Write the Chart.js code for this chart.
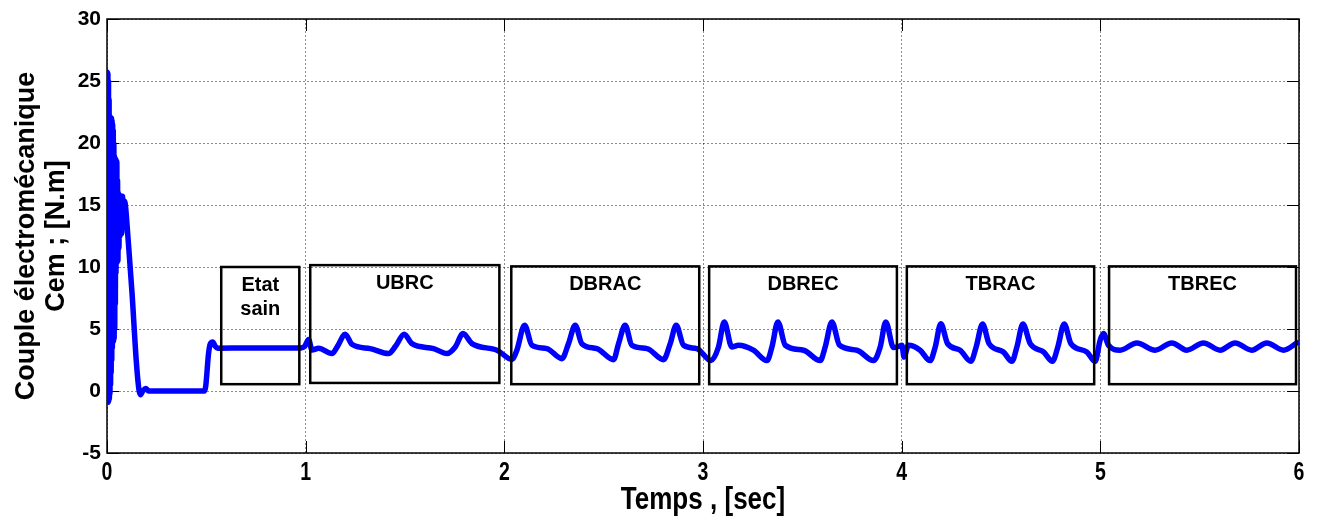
<!DOCTYPE html>
<html>
<head>
<meta charset="utf-8">
<script src="https://cdn.jsdelivr.net/npm/chart.js@4.4.1/dist/chart.umd.min.js"></script>
<style>
  html, body { margin: 0; padding: 0; background: #fff; }
</style>
</head>
<body>
<canvas id="chart" width="1321" height="518"></canvas>
<script>
// time axis [sec] and electromagnetic torque Cem [N.m]
const timeSec = [
  0.0000, 0.0015, 0.0030, 0.0045, 0.0060, 0.0075, 0.0090, 0.0105, 0.0120, 0.0135,
  0.0150, 0.0165, 0.0180, 0.0195, 0.0210, 0.0225, 0.0240, 0.0255, 0.0270, 0.0285,
  0.0300, 0.0315, 0.0330, 0.0345, 0.0360, 0.0375, 0.0390, 0.0405, 0.0420, 0.0435,
  0.0450, 0.0465, 0.0480, 0.0495, 0.0510, 0.0530, 0.0550, 0.0570, 0.0600, 0.0630,
  0.0660, 0.0700, 0.0740, 0.0780, 0.0830, 0.0890, 0.0950, 0.1050,
  0.126, 0.147, 0.160, 0.168, 0.180, 0.195, 0.210, 0.490, 0.497, 0.511,
  0.520, 0.532, 0.545, 0.556, 0.700, 0.975, 0.995, 1.015, 1.032, 1.065,
  1.132, 1.160, 1.199, 1.233, 1.325, 1.417, 1.452, 1.496, 1.535, 1.644,
  1.711, 1.753, 1.792, 1.837, 1.963, 2.038, 2.063, 2.102, 2.139, 2.214,
  2.290, 2.323, 2.357, 2.390, 2.466, 2.550, 2.575, 2.608, 2.642, 2.718,
  2.801, 2.835, 2.865, 2.902, 2.969, 3.040, 3.078, 3.107, 3.145, 3.179,
  3.254, 3.322, 3.347, 3.377, 3.414, 3.506, 3.590, 3.615, 3.649, 3.687,
  3.775, 3.858, 3.892, 3.920, 3.959, 3.985, 4.001, 4.012, 4.034, 4.093,
  4.143, 4.169, 4.197, 4.231, 4.294, 4.348, 4.375, 4.407, 4.440, 4.512,
  4.555, 4.580, 4.610, 4.647, 4.714, 4.759, 4.786, 4.818, 4.852, 4.932,
  4.974, 4.999, 5.016, 5.041, 5.100, 5.184, 5.276, 5.360, 5.435, 5.519,
  5.603, 5.678, 5.762, 5.838, 5.922, 5.990
];
const cemNm = [
  -0.5, 25.7, -0.9, 25.6, -0.9, 25.0, -0.8, 23.5, -0.6, 22.2,
  -0.2, 22.1, 0.5, 22.0, 1.5, 22.0, 2.5, 21.8, 3.5, 21.5,
  4.0, 21.0, 4.0, 20.0, 4.2, 19.0, 5.0, 18.7, 7.0, 18.7,
  9.5, 18.6, 10.4, 18.5, 10.4, 17.0, 10.5, 16.0, 11.5, 15.8,
  12.5, 15.7, 12.7, 15.7, 13.5, 15.3, 14.6, 12.5,
  7.9, 2.5, 0.2, -0.3, 0.0, 0.2, 0.0, 0.0, 0.4, 3.0,
  3.8, 3.95, 3.6, 3.45, 3.47, 3.47, 3.6, 4.15, 3.3, 3.45,
  3.02, 3.6, 4.58, 3.77, 3.42, 3.02, 3.6, 4.58, 3.82, 3.42,
  3.02, 3.55, 4.63, 3.82, 3.29, 2.55, 3.29, 5.3, 3.69, 3.42,
  2.61, 3.82, 5.3, 3.82, 3.42, 2.53, 3.82, 5.3, 3.69, 3.42,
  2.53, 3.82, 5.3, 3.69, 3.42, 2.45, 3.55, 5.57, 3.55, 3.69,
  3.29, 2.45, 3.55, 5.57, 3.69, 3.29, 2.45, 3.55, 5.57, 3.69,
  3.29, 2.45, 3.55, 5.57, 3.5, 3.6, 3.69, 2.74, 3.69, 3.29,
  2.45, 3.55, 5.43, 3.82, 3.29, 2.39, 3.55, 5.4, 3.82, 3.15,
  2.39, 3.55, 5.4, 3.82, 3.15, 2.39, 3.55, 5.4, 3.82, 3.15,
  2.39, 4.09, 4.63, 3.69, 3.29, 3.88, 3.29, 3.88, 3.29, 3.88,
  3.29, 3.88, 3.29, 3.88, 3.29, 3.88
];

const xTicks = [0, 1, 2, 3, 4, 5, 6];
const yTicks = [-5, 0, 5, 10, 15, 20, 25, 30];
const xTitle = 'Temps , [sec]';

// fault-state frames drawn on the plot
const boxLabels = [['Etat', 'sain'], ['UBRC'], ['DBRAC'], ['DBREC'], ['TBRAC'], ['TBREC']];
const boxStart = [0.575, 1.023, 2.035, 3.031, 4.026, 5.044];
const boxEnd = [0.968, 1.975, 2.981, 3.976, 4.969, 5.985];
const boxTop = [10.0, 10.15, 10.05, 10.05, 10.05, 10.05];
const boxBottom = [0.55, 0.65, 0.55, 0.55, 0.55, 0.55];

const regular = "'Liberation Sans', Arial, sans-serif";

// draws text squeezed horizontally (the x axis uses a condensed face)
function narrowText(ctx, txt, cx, baseline, size, squeeze) {
  ctx.save();
  ctx.translate(cx, baseline);
  ctx.scale(squeeze, 1);
  ctx.font = 'bold ' + size + 'px ' + regular;
  ctx.textAlign = 'center';
  ctx.textBaseline = 'alphabetic';
  ctx.fillText(txt, 0, 0);
  ctx.restore();
}

const frameAndTicks = {
  id: 'frameAndTicks',
  beforeDatasetsDraw(chart) {
    const {ctx, chartArea: a, scales: {x, y}} = chart;
    ctx.save();
    ctx.strokeStyle = '#000';
    ctx.lineWidth = 1.5;
    ctx.strokeRect(a.left, a.top, a.right - a.left, a.bottom - a.top);
    ctx.lineWidth = 1;
    ctx.beginPath();
    x.ticks.forEach(tk => {
      const px = Math.round(x.getPixelForValue(tk.value)) + 0.5;
      ctx.moveTo(px, a.bottom); ctx.lineTo(px, a.bottom - 12);
      ctx.moveTo(px, a.top); ctx.lineTo(px, a.top + 12);
    });
    y.ticks.forEach(tk => {
      const py = Math.round(y.getPixelForValue(tk.value)) + 0.5;
      ctx.moveTo(a.left, py); ctx.lineTo(a.left + 12, py);
      ctx.moveTo(a.right, py); ctx.lineTo(a.right - 12, py);
    });
    ctx.stroke();
    ctx.fillStyle = '#000';
    x.ticks.forEach(tk => {
      narrowText(ctx, String(tk.value), x.getPixelForValue(tk.value), a.bottom + 27, 25, 0.78);
    });
    narrowText(ctx, xTitle, (a.left + a.right) / 2, a.bottom + 56, 31, 0.84);
    ctx.restore();
  },
  afterDatasetsDraw(chart) {
    const {ctx, scales: {x, y}} = chart;
    ctx.save();
    ctx.strokeStyle = '#000';
    ctx.fillStyle = '#000';
    ctx.lineWidth = 2.5;
    ctx.font = 'bold 20px ' + regular;
    ctx.textAlign = 'center';
    ctx.textBaseline = 'alphabetic';
    boxLabels.forEach((lines, i) => {
      const l = x.getPixelForValue(boxStart[i]);
      const r = x.getPixelForValue(boxEnd[i]);
      const t = y.getPixelForValue(boxTop[i]);
      const b = y.getPixelForValue(boxBottom[i]);
      ctx.strokeRect(l, t, r - l, b - t);
      lines.forEach((txt, j) => ctx.fillText(txt, (l + r) / 2, t + 24 + j * 24));
    });
    ctx.restore();
  }
};

new Chart(document.getElementById('chart'), {
  type: 'line',
  data: {
    datasets: [{
      data: timeSec.map((t, i) => ({x: t, y: cemNm[i]})),
      borderColor: '#0000ff',
      borderWidth: 5.5,
      pointRadius: 0,
      cubicInterpolationMode: 'monotone',
      borderJoinStyle: 'round',
      borderCapStyle: 'round',
      fill: false
    }]
  },
  options: {
    responsive: false,
    animation: false,
    devicePixelRatio: 1,
    layout: {padding: {top: 19, right: 22, bottom: 0, left: 0}},
    plugins: {legend: {display: false}, tooltip: {enabled: false}},
    scales: {
      x: {
        type: 'linear',
        min: 0,
        max: 6,
        afterBuildTicks: s => { s.ticks = xTicks.map(v => ({value: v})); },
        afterFit: s => { s.height = 65; },
        grid: {color: 'rgba(0,0,0,0.45)', lineWidth: 1, drawTicks: false},
        border: {display: false, dash: [2, 2]},
        ticks: {display: false}
      },
      y: {
        min: -5,
        max: 30,
        afterBuildTicks: s => { s.ticks = yTicks.map(v => ({value: v})); },
        afterFit: s => { s.width = 107; },
        grid: {color: 'rgba(0,0,0,0.45)', lineWidth: 1, drawTicks: false},
        border: {display: false, dash: [2, 2]},
        ticks: {color: '#000', padding: 6,
                font: {family: regular, size: 21, weight: 'bold'}},
        title: {display: true, text: ['Couple électromécanique', 'Cem ; [N.m]'], color: '#000',
                font: {family: regular, size: 27, weight: 'bold', lineHeight: 1.11},
                padding: {top: 12, bottom: 0}}
      }
    }
  },
  plugins: [frameAndTicks]
});
</script>
</body>
</html>
